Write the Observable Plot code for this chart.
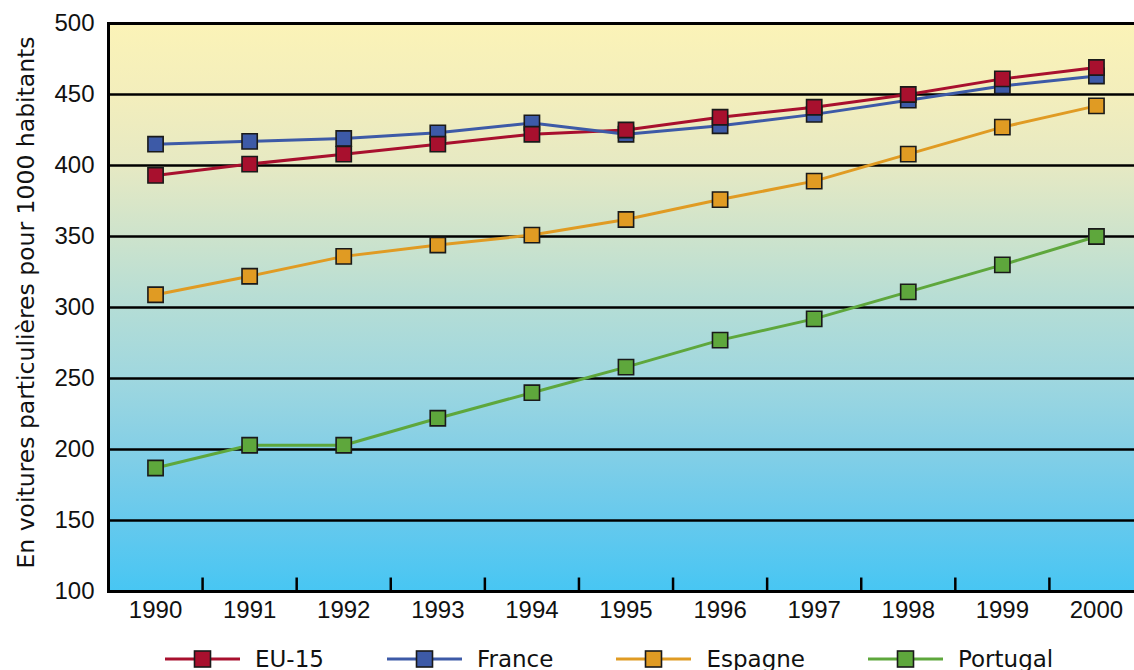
<!DOCTYPE html>
<html>
<head>
<meta charset="utf-8">
<script src="https://cdn.jsdelivr.net/npm/d3@7"></script>
<script src="https://cdn.jsdelivr.net/npm/@observablehq/plot@0.6"></script>
<style>
  html, body { margin: 0; padding: 0; background: #fff; overflow: hidden; width: 1134px; height: 670px; }
  #chart svg { display: block; max-width: none; }
  .legend { display: flex; align-items: center; gap: 63px; padding-left: 165px; height: 48px;
            font-family: "DejaVu Sans", sans-serif; font-size: 23px; color: #111; }
  .legend .item { display: flex; align-items: center; gap: 15px; }
  .legend svg { display: block; }
</style>
</head>
<body>
<div id="chart"></div>
<div class="legend" id="legend"></div>
<script>
// Car ownership, passenger cars per 1000 inhabitants, 1990–2000
const years    = [1990, 1991, 1992, 1993, 1994, 1995, 1996, 1997, 1998, 1999, 2000];
const eu15     = [393, 401, 408, 415, 422, 425, 434, 441, 450, 461, 469];
const france   = [415, 417, 419, 423, 430, 422, 428, 436, 446, 456, 463];
const espagne  = [309, 322, 336, 344, 351, 362, 376, 389, 408, 427, 442];
const portugal = [187, 203, 203, 222, 240, 258, 277, 292, 311, 330, 350];

const seriesNames  = ["EU-15", "France", "Espagne", "Portugal"];
const seriesColors = ["#a8102e", "#3d5aa7", "#e09b23", "#5ea73c"];
const yTicks = [100, 150, 200, 250, 300, 350, 400, 450, 500];
const yTitle = "En voitures particulières pour 1000 habitants";

const valuesByName = {"EU-15": eu15, "France": france, "Espagne": espagne, "Portugal": portugal};
const rows = seriesNames.flatMap(name =>
  years.map((year, i) => ({series: name, year, value: valuesByName[name][i]}))
);
// markers of EU-15 sit on top of the others
const markerOrder = ["France", "Espagne", "Portugal", "EU-15"];
const markerRows = markerOrder.flatMap(name => rows.filter(r => r.series === name));

const chart = Plot.plot({
  width: 1134,
  height: 635,
  marginLeft: 108,
  marginRight: -9,
  marginTop: 23,
  marginBottom: 44,
  style: {fontFamily: "'Liberation Sans Narrow', 'Liberation Sans', sans-serif", fontSize: "24px", color: "#111"},
  x: {domain: [1989.5, 2000.5]},
  y: {domain: [100, 500]},
  color: {domain: seriesNames, range: seriesColors},
  marks: [
    Plot.frame({fill: "url(#plot-bg)"}),
    Plot.ruleY(yTicks.slice(1, -1), {stroke: "#000", strokeWidth: 2.5}),
    Plot.ruleX(years.slice(1), {x: d => d - 0.5, y1: 100, y2: 109.5, stroke: "#000", strokeWidth: 2.5}),
    Plot.line(rows, {x: "year", y: "value", z: "series", stroke: "series", strokeWidth: 3}),
    Plot.dot(markerRows, {x: "year", y: "value", fill: "series", symbol: "square", r: 8.6,
                          stroke: "#1a1a1a", strokeWidth: 1.6}),
    Plot.frame({stroke: "#000", strokeWidth: 3}),
    Plot.axisY({ticks: yTicks, tickSize: 0, tickPadding: 14, label: null, fontSize: 24}),
    Plot.axisX({ticks: years, tickFormat: d => String(d), tickSize: 0, tickPadding: 9, label: null, fontSize: 24}),
    Plot.text([yTitle], {text: d => d, frameAnchor: "left", textAnchor: "middle", lineAnchor: "middle",
                         dx: -82, dy: -5, rotate: -90, fontFamily: "DejaVu Sans", fontSize: 23.5, fill: "#111"})
  ]
});

// vertical background gradient of the plotting area: pale yellow to sky blue
const ns = "http://www.w3.org/2000/svg";
const defs = document.createElementNS(ns, "defs");
const grad = document.createElementNS(ns, "linearGradient");
grad.setAttribute("id", "plot-bg");
grad.setAttribute("x1", "0"); grad.setAttribute("y1", "0");
grad.setAttribute("x2", "0"); grad.setAttribute("y2", "1");
[[0, "#fbf3b7"], [0.125, "#f3eebc"], [0.25, "#e6e9c3"], [0.375, "#cde3cc"], [0.5, "#b4ddd6"],
 [0.625, "#9fd7df"], [0.75, "#84cfe6"], [0.875, "#66c9ed"], [1, "#47c6f3"]].forEach(([o, c]) => {
  const s = document.createElementNS(ns, "stop");
  s.setAttribute("offset", o);
  s.setAttribute("stop-color", c);
  grad.appendChild(s);
});
defs.appendChild(grad);
chart.insertBefore(defs, chart.firstChild);
document.getElementById("chart").appendChild(chart);

// legend: line with a square marker, then the series name
const legend = document.getElementById("legend");
seriesNames.forEach((name, i) => {
  const item = document.createElement("div");
  item.className = "item";
  item.innerHTML =
    `<svg width="75" height="20"><line x1="0" x2="75" y1="10" y2="10" stroke="${seriesColors[i]}" stroke-width="3"/>` +
    `<rect x="29.5" y="2" width="16" height="16" fill="${seriesColors[i]}" stroke="#1a1a1a" stroke-width="1.6"/></svg>` +
    `<span>${name}</span>`;
  legend.appendChild(item);
});
</script>
</body>
</html>
